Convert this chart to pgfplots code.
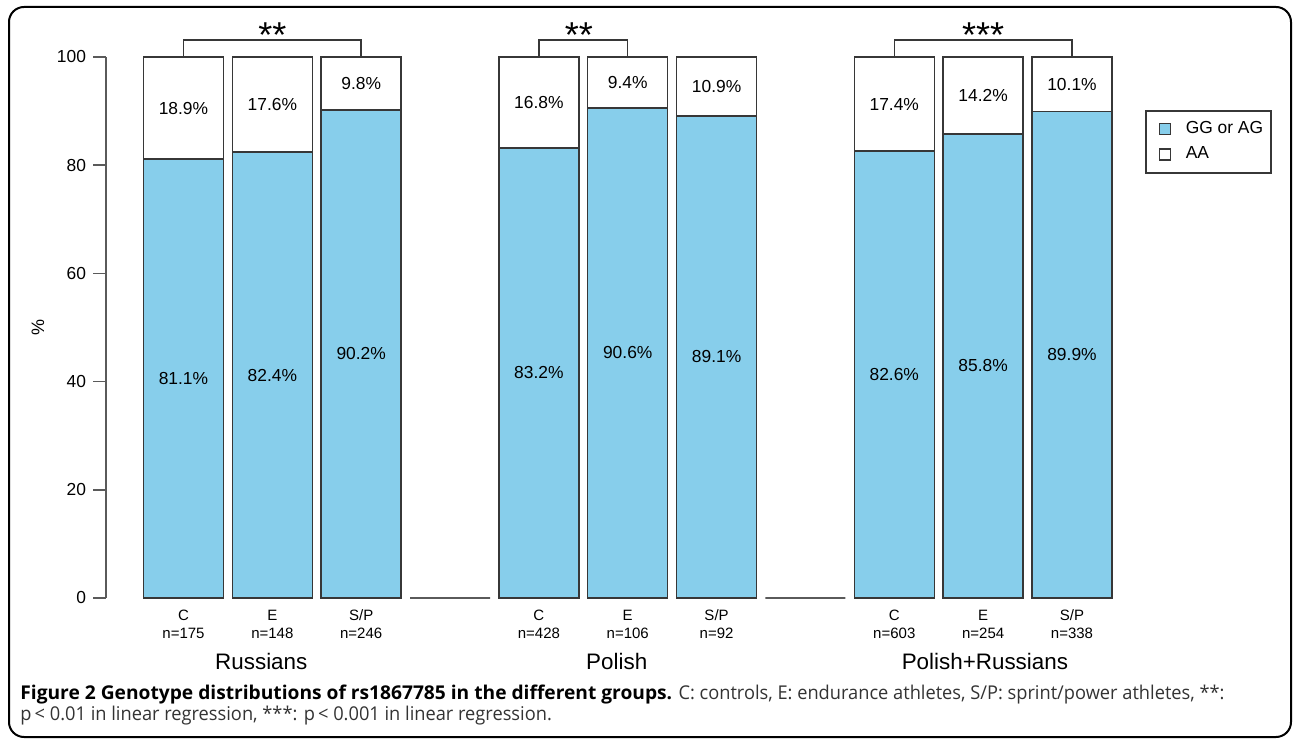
\documentclass[border=0pt]{standalone}
\usepackage{fontspec}
\setmainfont{Liberation Sans}
\newfontfamily\capfont[FakeStretch=0.96, BoldFeatures={FakeStretch=1.01}]{Open Sans}
\usepackage{pgfplots}
\usepackage{pgfplotstable}
\pgfplotsset{compat=1.18}
\definecolor{skyblue}{RGB}{135,206,235}
\definecolor{edge}{RGB}{55,55,55}
\definecolor{axisgray}{RGB}{90,90,90}

% genotype shares (%) per group; x = bar slot
\pgfplotstableread{
x  g    a
0  81.1 18.9
1  82.4 17.6
2  90.2 9.8
4  83.2 16.8
5  90.6 9.4
6  89.1 10.9
8  82.6 17.4
9  85.8 14.2
10 89.9 10.1
}\genotypes

\begin{document}
\begin{tikzpicture}[x=0.5pt,y=0.5pt]
\useasboundingbox (0,0) rectangle (1295,739);
\draw[line width=1pt, rounded corners=7.5pt] (9,2) rectangle (1291,732);

\begin{axis}[
  at={(53pt,70.5pt)}, anchor=south west,
  x=44.425pt, y=2.705pt,
  xmin=-0.872, xmax=10.5, ymin=0, ymax=100,
  axis lines*=left,
  axis line style={-},
  x axis line style={draw=none},
  y axis line style={draw=axisgray, line width=0.75pt},
  ytick={0,20,40,60,80,100},
  tick align=outside, major tick length=6.5pt,
  ytick style={draw=axisgray, line width=0.75pt},
  yticklabel style={font=\fontsize{8.7}{10}\selectfont},
  /pgf/number format/assume math mode=true,
  xtick={0,1,2,4,5,6,8,9,10},
  xtick style={draw=none},
  xticklabels={{C\\n=175},{E\\n=148},{S/P\\n=246},
               {C\\n=428},{E\\n=106},{S/P\\n=92},
               {C\\n=603},{E\\n=254},{S/P\\n=338}},
  xticklabel style={align=center, font=\fontsize{7.5}{9}\selectfont, yshift=4pt},
  clip=false,
  legend style={at={(1.0283,0.902)}, anchor=north west, draw=edge,
    line width=0.75pt, font=\fontsize{8.7}{10}\selectfont,
    inner xsep=2pt, inner ysep=3.5pt, row sep=1pt},
  legend cell align=left,
  legend image code/.code={%
    \path[draw=none, fill=none] (-5pt,0pt) -- (11pt,0pt);
    \draw[#1, line width=0.6pt] (0pt,-2.75pt) rectangle (5.5pt,2.75pt);},
]
% full-height white bars (AA share shows above the blue part)
\addplot[ybar, bar width=40pt, bar shift=0pt, fill=white, draw=edge, line width=0.75pt, forget plot]
  table[x=x, y expr=\thisrow{g}+\thisrow{a}] {\genotypes};
% GG or AG share
\addplot[ybar, bar width=40pt, bar shift=0pt, fill=skyblue, draw=edge, line width=0.75pt, forget plot]
  table[x=x, y=g] {\genotypes};
% empty separator slots between the groups
\addplot[ybar, bar width=40pt, bar shift=0pt, draw=axisgray, line width=0.75pt, forget plot]
  coordinates {(3,0) (7,0)};
% percentage labels
\addplot[draw=none, mark=none, forget plot, point meta=explicit,
  nodes near coords={\pgfmathprintnumber[fixed,fixed zerofill,precision=1]{\pgfplotspointmeta}\%},
  every node near coord/.append style={anchor=center, font=\fontsize{8.7}{10}\selectfont}]
  table[x=x, y expr=\thisrow{g}/2, meta=g] {\genotypes};
\addplot[draw=none, mark=none, forget plot, point meta=explicit,
  nodes near coords={\pgfmathprintnumber[fixed,fixed zerofill,precision=1]{\pgfplotspointmeta}\%},
  every node near coord/.append style={anchor=center, font=\fontsize{8.7}{10}\selectfont}]
  table[x=x, y expr=\thisrow{g}+\thisrow{a}/2, meta=a] {\genotypes};

\addlegendimage{fill=skyblue, draw=edge}
\addlegendentry{GG or AG}
\addlegendimage{fill=white, draw=edge}
\addlegendentry{AA}

% significance brackets
\draw[edge, line width=0.75pt] (axis cs:0,100) -- (axis cs:0,103.1) -- (axis cs:2,103.1) -- (axis cs:2,100);
\draw[edge, line width=0.75pt] (axis cs:4,100) -- (axis cs:4,103.1) -- (axis cs:5,103.1) -- (axis cs:5,100);
\draw[edge, line width=0.75pt] (axis cs:8,100) -- (axis cs:8,103.1) -- (axis cs:10,103.1) -- (axis cs:10,100);
\node[font=\fontsize{18}{20}\selectfont] at (axis cs:1,104) {**};
\node[font=\fontsize{18}{20}\selectfont] at (axis cs:4.45,104) {**};
\node[font=\fontsize{18}{20}\selectfont] at (axis cs:9,104) {***};

% group names
\node[font=\fontsize{11.2}{13}\selectfont] at (axis cs:0.876,0) [yshift=-31.5pt] {Russians};
\node[font=\fontsize{11.2}{13}\selectfont] at (axis cs:4.876,0) [yshift=-31.5pt] {Polish};
\node[font=\fontsize{11.2}{13}\selectfont] at (axis cs:9.02,0) [yshift=-31.5pt] {Polish+Russians};
\end{axis}

\node[rotate=90, font=\fontsize{9}{10}\selectfont] at (38,411) {\%};

\node[anchor=base west, inner sep=0pt, font=\capfont\fontsize{9.5}{11}\selectfont] at (20,40)
  {\textbf{Figure 2 Genotype distributions of rs1867785 in the different groups.} \color{black!80}C: controls, E: endurance athletes, S/P: sprint/power athletes, **:};
\node[anchor=base west, inner sep=0pt, font=\capfont\fontsize{9.5}{11}\selectfont, text=black!80] at (20,18.5)
  {p\,\textless\ 0.01 in linear regression, ***: p\,\textless\ 0.001 in linear regression.};
\end{tikzpicture}
\end{document}
